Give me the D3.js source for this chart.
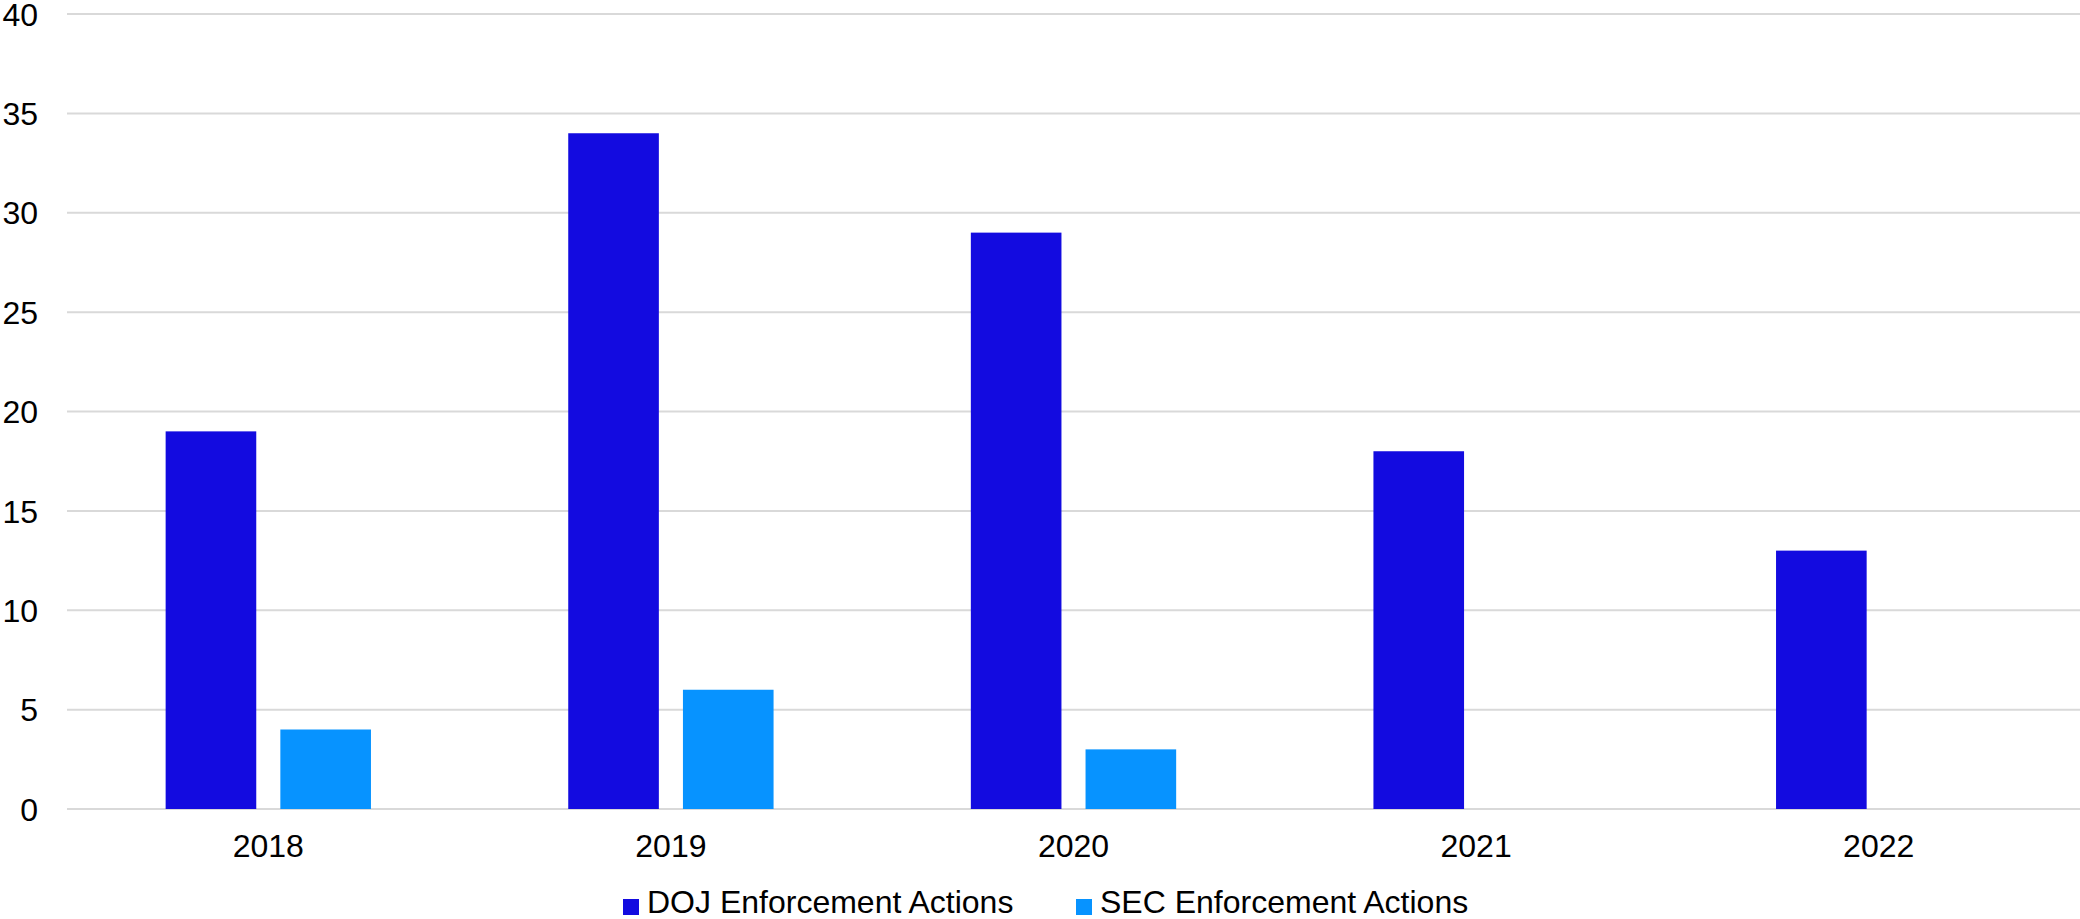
<!DOCTYPE html>
<html>
<head>
<meta charset="utf-8">
<script src="https://cdn.jsdelivr.net/npm/d3@7"></script>
<style>
  html, body { margin: 0; padding: 0; background: #fff; }
  svg { display: block; }
  text { font-family: "Liberation Sans", Arial, sans-serif; fill: #000; }
</style>
</head>
<body>
<svg id="chart" width="2080" height="919"></svg>
<script>
const years = ["2018", "2019", "2020", "2021", "2022"];
const seriesNames = ["DOJ Enforcement Actions", "SEC Enforcement Actions"];
const dojValues = [19, 34, 29, 18, 13];
const secValues = [4, 6, 3, 0, 0];
const yTicks = [0, 5, 10, 15, 20, 25, 30, 35, 40];
const colors = ["#130BE0", "#0793FF"];

(function () {
const svg = d3.select("#chart");
const mLeft = 67, mRight = 2080, mTop = 14, mBottom = 809;

const x0 = d3.scaleBand().domain(years).range([mLeft, mRight]).padding(0);
const bw = x0.bandwidth();
const x1 = d3.scaleBand().domain(seriesNames).range([bw * 0.245, bw * 0.755]).paddingInner(0.21);
const y = d3.scaleLinear().domain([0, 40]).range([mBottom, mTop]);

// gridlines
svg.append("g").selectAll("line").data(yTicks).join("line")
  .attr("x1", mLeft).attr("x2", mRight)
  .attr("y1", d => y(d)).attr("y2", d => y(d))
  .attr("stroke", "#d9d9d9").attr("stroke-width", 2);

// y axis labels
const yAxis = d3.axisLeft(y).tickValues(yTicks).tickSize(0).tickPadding(0);
const gy = svg.append("g").attr("transform", "translate(38,0)").call(yAxis);
gy.select(".domain").remove();
gy.selectAll("text").attr("font-size", 32).attr("dy", "0.35em")
  .style("font-family", '"Liberation Sans", Arial, sans-serif').attr("fill", "#000");

// x axis labels
const xAxis = d3.axisBottom(x0).tickSize(0).tickPadding(0);
const gx = svg.append("g").attr("transform", `translate(0,${mBottom})`).call(xAxis);
gx.select(".domain").remove();
gx.selectAll("text").attr("font-size", 32).attr("y", 48).attr("dy", 0)
  .style("font-family", '"Liberation Sans", Arial, sans-serif').attr("fill", "#000");

// bars
const data = years.map((yr, i) => ({ year: yr, vals: [dojValues[i], secValues[i]] }));
const groups = svg.append("g").selectAll("g").data(data).join("g")
  .attr("transform", d => `translate(${x0(d.year)},0)`);
groups.selectAll("rect").data(d => d.vals.map((v, j) => ({ v, s: seriesNames[j], j })).filter(e => e.v > 0))
  .join("rect")
  .attr("x", d => x1(d.s))
  .attr("width", x1.bandwidth())
  .attr("y", d => y(d.v))
  .attr("height", d => y(0) - y(d.v))
  .attr("fill", d => colors[d.j]);

// legend
const legendX = [623, 1076];
const lg = svg.append("g").selectAll("g").data(seriesNames).join("g")
  .attr("transform", (d, i) => `translate(${legendX[i]},0)`);
lg.append("rect").attr("x", 0).attr("y", 899).attr("width", 16).attr("height", 16)
  .attr("fill", (d, i) => colors[i]);
lg.append("text").attr("x", 24).attr("y", 913).attr("font-size", 32).text(d => d);
})();
</script>
</body>
</html>
